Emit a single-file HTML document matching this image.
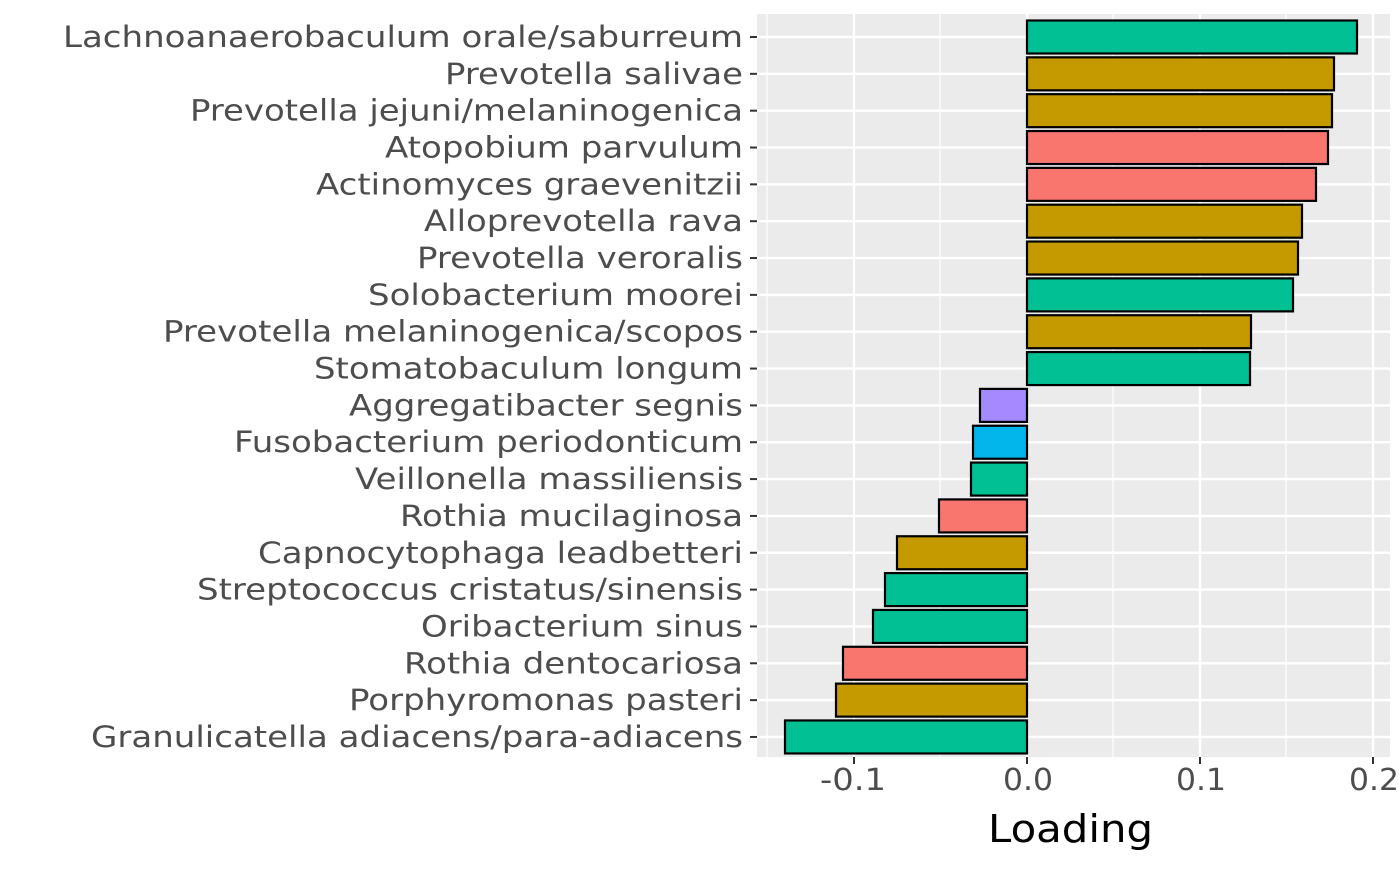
<!DOCTYPE html>
<html><head><style>html,body{margin:0;padding:0;background:#fff}</style></head><body>
<svg width="1400" height="865" xmlns="http://www.w3.org/2000/svg" font-family="'DejaVu Sans','Liberation Sans',sans-serif">
<rect x="757" y="14" width="633" height="743" fill="#ebebeb"/>
<g stroke="#fff" stroke-width="1.2">
<line x1="767" y1="14" x2="767" y2="757"/><line x1="940" y1="14" x2="940" y2="757"/><line x1="1113" y1="14" x2="1113" y2="757"/><line x1="1286" y1="14" x2="1286" y2="757"/>
</g>
<g stroke="#fff" stroke-width="2.4">
<line x1="854" y1="14" x2="854" y2="757"/><line x1="1027" y1="14" x2="1027" y2="757"/><line x1="1200" y1="14" x2="1200" y2="757"/><line x1="1373" y1="14" x2="1373" y2="757"/>
</g>
<g stroke="#fff" stroke-width="2.4" id="grid"></g>
<g id="bars"></g>
<g id="labels" fill="#4d4d4d" font-size="29" text-anchor="start"></g>
<g fill="#4d4d4d" font-size="30">
<text x="820" y="790" textLength="66" lengthAdjust="spacingAndGlyphs">-0.1</text>
<text x="1003" y="790" textLength="50" lengthAdjust="spacingAndGlyphs">0.0</text>
<text x="1176" y="790" textLength="50" lengthAdjust="spacingAndGlyphs">0.1</text>
<text x="1349" y="790" textLength="50" lengthAdjust="spacingAndGlyphs">0.2</text>
</g>
<g stroke="#333" stroke-width="2">
<line x1="854" y1="757" x2="854" y2="764"/><line x1="1027" y1="757" x2="1027" y2="764"/><line x1="1200" y1="757" x2="1200" y2="764"/><line x1="1373" y1="757" x2="1373" y2="764"/>
</g>
<g id="yticks" stroke="#333" stroke-width="2"></g>
<text x="988" y="842" font-size="38" fill="#000" textLength="165" lengthAdjust="spacingAndGlyphs">Loading</text>
<script>
var ns="http://www.w3.org/2000/svg";
var names=["Lachnoanaerobaculum orale/saburreum","Prevotella salivae","Prevotella jejuni/melaninogenica","Atopobium parvulum","Actinomyces graevenitzii","Alloprevotella rava","Prevotella veroralis","Solobacterium moorei","Prevotella melaninogenica/scopos","Stomatobaculum longum","Aggregatibacter segnis","Fusobacterium periodonticum","Veillonella massiliensis","Rothia mucilaginosa","Capnocytophaga leadbetteri","Streptococcus cristatus/sinensis","Oribacterium sinus","Rothia dentocariosa","Porphyromonas pasteri","Granulicatella adiacens/para-adiacens"];
var lefts=[63,445,190,385,316,424,417,368,163,314,349,234,355,400,258,197,421,404,349,91];
var ends=[1357,1334,1332,1328,1316,1302,1298,1293,1251,1250,980,973,971,939,897,885,873,843,836,785];
var G="#00C094",Y="#C49A00",R="#F8766D",B="#00B6EB",P="#A58AFF";
var cols=[G,Y,Y,R,R,Y,Y,G,Y,G,P,B,G,R,Y,G,G,R,Y,G];
function el(t,a,p){var e=document.createElementNS(ns,t);for(var k in a)e.setAttribute(k,a[k]);document.getElementById(p).appendChild(e);return e;}
for(var i=0;i<20;i++){
 var y=37+i*36.84;
 el("line",{x1:757,x2:1390,y1:y,y2:y},"grid");
 var x0=Math.min(1027,ends[i]),x1=Math.max(1027,ends[i]);
 el("rect",{x:x0,y:y-16.5,width:x1-x0,height:33,fill:cols[i],stroke:"#000","stroke-width":2.2},"bars");
 var t=el("text",{x:lefts[i],y:y+10,textLength:743-lefts[i],lengthAdjust:"spacingAndGlyphs"},"labels");
 t.textContent=names[i];
 el("line",{x1:750,x2:757,y1:y,y2:y},"yticks");
}
</script>
</svg>
</body></html>
